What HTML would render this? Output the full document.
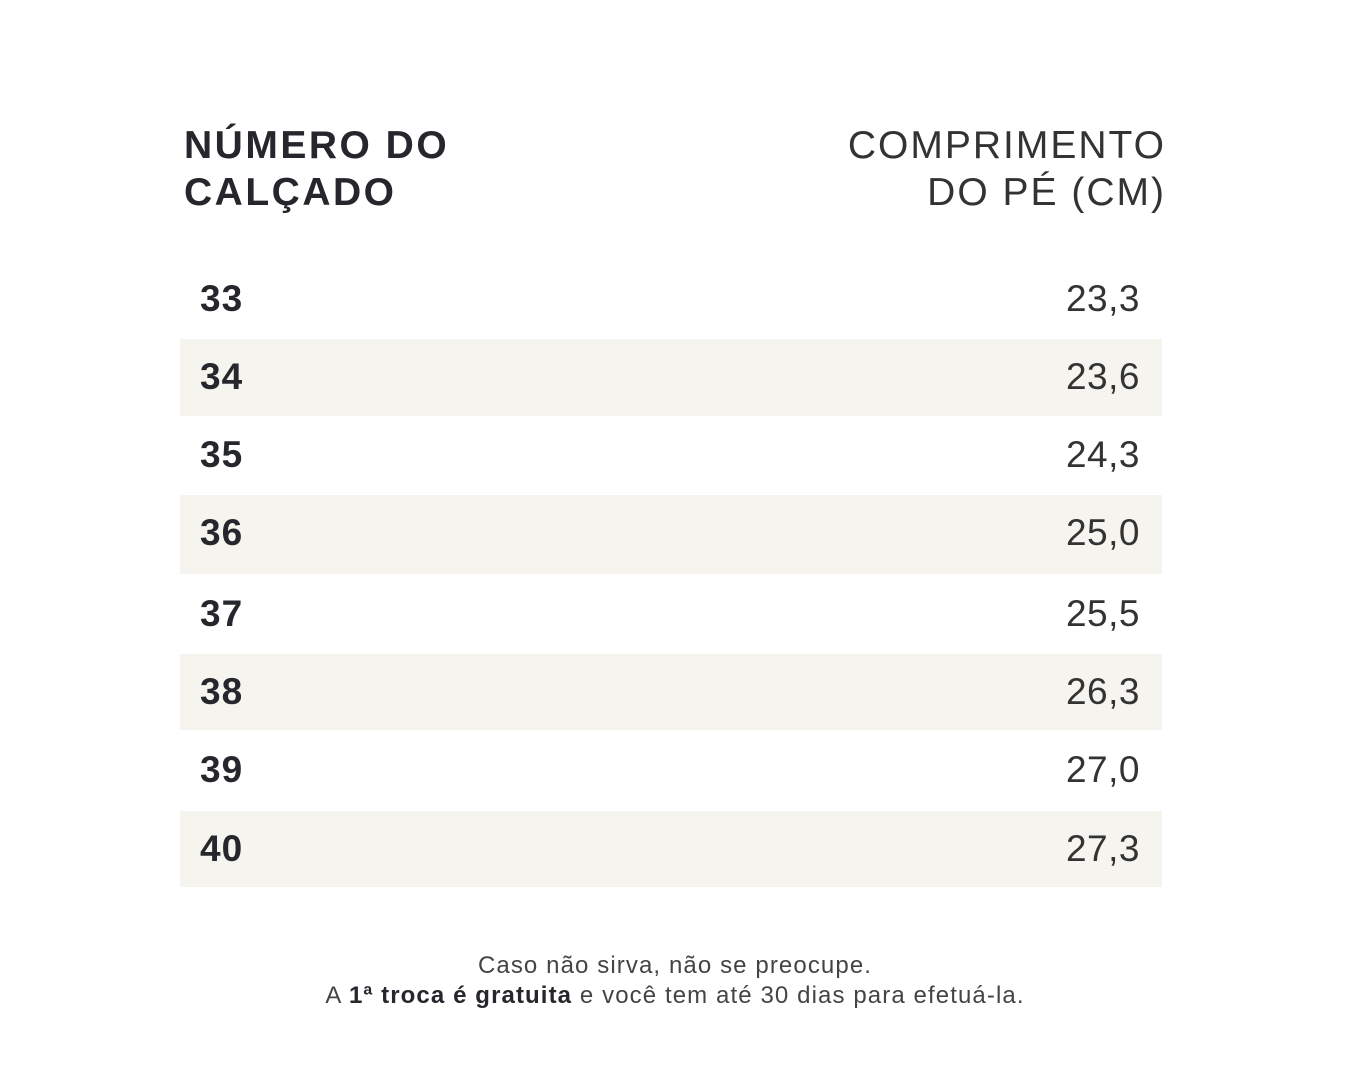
<!DOCTYPE html>
<html><head><meta charset="utf-8"><style>
html,body{margin:0;padding:0;background:#fff;}
body{width:1350px;height:1080px;position:relative;font-family:"Liberation Sans",sans-serif;color:#25272c;overflow:hidden;}
.h{position:absolute;font-size:39px;line-height:47px;}
.hl{left:184px;top:122px;font-weight:bold;letter-spacing:2.5px;}
.hr{right:184px;top:122px;text-align:right;font-weight:300;color:#333;letter-spacing:2px;}
.row{position:absolute;left:180px;width:982px;}
.s{background:#f6f4ee;}
.n{position:absolute;font-size:37px;font-weight:bold;letter-spacing:1px;}
.v{position:absolute;right:22px;font-size:37px;font-weight:300;color:#333;letter-spacing:0.5px;}
.row .n{left:20px;}
.f{position:absolute;left:0;width:1350px;text-align:center;font-size:24px;color:#444;letter-spacing:1.1px;}
</style></head><body>
<div class="h hl">NÚMERO DO<br>CALÇADO</div>
<div class="h hr">COMPRIMENTO<br>DO PÉ (CM)</div>

<div class="row" style="top:261px;height:78px"><span class="n" style="top:17px">33</span><span class="v" style="top:17px">23,3</span></div>
<div class="row s" style="top:339px;height:77px"><span class="n" style="top:17px">34</span><span class="v" style="top:17px">23,6</span></div>
<div class="row" style="top:416px;height:79px"><span class="n" style="top:18px">35</span><span class="v" style="top:18px">24,3</span></div>
<div class="row s" style="top:495px;height:79px"><span class="n" style="top:17px">36</span><span class="v" style="top:17px">25,0</span></div>
<div class="row" style="top:574px;height:80px"><span class="n" style="top:19px">37</span><span class="v" style="top:19px">25,5</span></div>
<div class="row s" style="top:654px;height:76px"><span class="n" style="top:17px">38</span><span class="v" style="top:17px">26,3</span></div>
<div class="row" style="top:730px;height:81px"><span class="n" style="top:19px">39</span><span class="v" style="top:19px">27,0</span></div>
<div class="row s" style="top:811px;height:76px"><span class="n" style="top:17px">40</span><span class="v" style="top:17px">27,3</span></div>

<div class="f" style="top:952px">Caso não sirva, não se preocupe.</div>
<div class="f" style="top:982px">A <b style="color:#25272c">1ª troca é gratuita</b> e você tem até 30 dias para efetuá-la.</div>
</body></html>
